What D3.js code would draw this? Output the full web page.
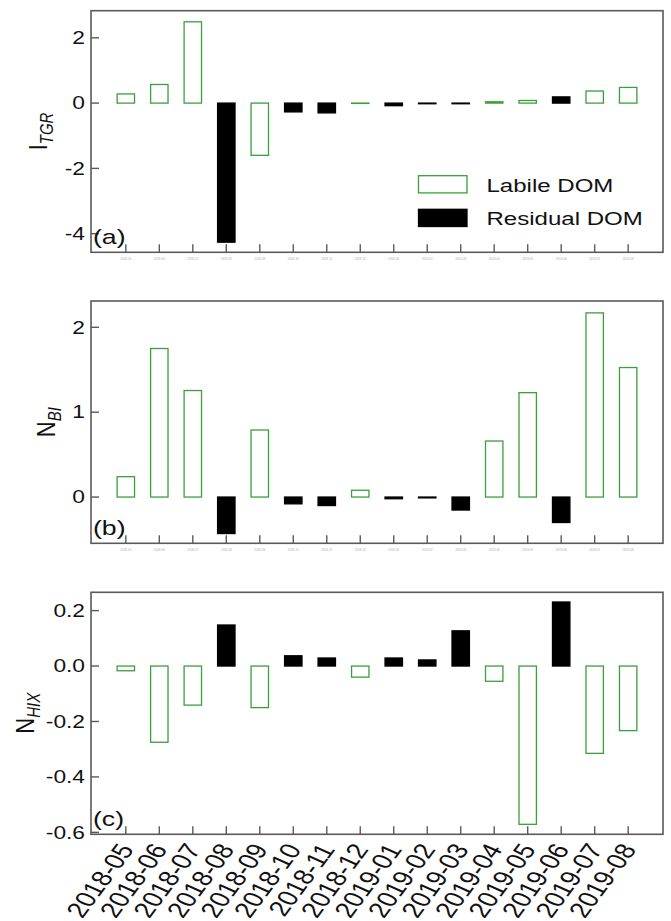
<!DOCTYPE html>
<html>
<head>
<meta charset="utf-8">
<script src="https://cdn.jsdelivr.net/npm/d3@7"></script>
<style>
  html, body { margin: 0; padding: 0; background: #fff; }
  svg { display: block; font-family: "Liberation Sans", Arial, sans-serif; }
</style>
</head>
<body>
<svg id="chart" width="671" height="921"></svg>
<script>
// ---- data ----
const months = ["2018-05","2018-06","2018-07","2018-08","2018-09","2018-10","2018-11","2018-12",
                "2019-01","2019-02","2019-03","2019-04","2019-05","2019-06","2019-07","2019-08"];
const domType = ["Labile","Labile","Labile","Residual","Labile","Residual","Residual","Labile",
                 "Residual","Residual","Residual","Labile","Labile","Residual","Labile","Labile"];
const itgr = [0.28, 0.57, 2.49, -4.26, -1.60, -0.27, -0.30, -0.01, -0.08, -0.02, -0.02, 0.04, 0.08, 0.19, 0.37, 0.48];
const nbi  = [0.24, 1.75, 1.255, -0.43, 0.79, -0.08, -0.10, 0.08, -0.02, -0.01, -0.153, 0.66, 1.23, -0.30, 2.17, 1.526];
const nhix = [-0.017, -0.275, -0.141, 0.148, -0.150, 0.037, 0.029, -0.040, 0.029, 0.022, 0.127, -0.055, -0.571, 0.231, -0.315, -0.233];
const itgrTicks = [-4, -2, 0, 2];
const itgrTickLabels = ["-4", "-2", "0", "2"];
const nbiTicks = [0, 1, 2];
const nbiTickLabels = ["0", "1", "2"];
const nhixTicks = [-0.6, -0.4, -0.2, 0, 0.2];
const nhixTickLabels = ["-0.6", "-0.4", "-0.2", "0.0", "0.2"];
const legendLabels = ["Labile DOM", "Residual DOM"];
const panelLetters = ["(a)", "(b)", "(c)"];

// ---- layout ----
const GREEN = "#3b9f3b";
const FRAME = "#5a5a5a";
const SX = 1.3; // horizontal text stretch seen in the reference
const left = 91, right = 663;

const panels = [
  { vals: itgr, ticks: itgrTicks, labels: itgrTickLabels, main: "I", sub: "TGR",
    domain: [-4.57, 2.83], top: 10.7, bottom: 252.3, titleX: 47, tiny: true, legend: true },
  { vals: nbi, ticks: nbiTicks, labels: nbiTickLabels, main: "N", sub: "BI",
    domain: [-0.545, 2.31], top: 301, bottom: 543.3, titleX: 55, tiny: true, legend: false },
  { vals: nhix, ticks: nhixTicks, labels: nhixTickLabels, main: "N", sub: "HIX",
    domain: [-0.607, 0.266], top: 592.3, bottom: 834.3, titleX: 34, tiny: false, legend: false }
];

const svg = d3.select("#chart");
svg.append("rect").attr("width", 671).attr("height", 921).attr("fill", "#fff");

const x = d3.scaleBand().domain(months).range([left, right]).paddingInner(0.48).paddingOuter(0.78);

function stretchedText(g, px, py, str, size, anchor) {
  return g.append("text")
    .attr("transform", `translate(${px},${py}) scale(${SX},1)`)
    .attr("text-anchor", anchor || "start")
    .attr("font-size", size)
    .attr("fill", "#111")
    .text(str);
}

panels.forEach((p, pi) => {
  const g = svg.append("g");
  const y = d3.scaleLinear().domain(p.domain).range([p.bottom, p.top]);
  const data = months.map((m, i) => ({ m, v: p.vals[i], t: domType[i] }));

  // bars
  g.selectAll("rect.bar").data(data).enter().append("rect")
    .attr("class", "bar")
    .attr("x", d => x(d.m))
    .attr("width", x.bandwidth())
    .attr("y", d => Math.min(y(d.v), y(0)))
    .attr("height", d => Math.abs(y(d.v) - y(0)))
    .attr("fill", d => d.t === "Labile" ? "#fff" : "#000")
    .attr("stroke", d => d.t === "Labile" ? GREEN : "#000")
    .attr("stroke-width", 1.3);

  // frame
  g.append("rect")
    .attr("x", left).attr("y", p.top)
    .attr("width", right - left).attr("height", p.bottom - p.top)
    .attr("fill", "none").attr("stroke", FRAME).attr("stroke-width", 1.6);

  // y ticks (inside) + labels
  p.ticks.forEach((t, i) => {
    g.append("line")
      .attr("x1", left).attr("x2", left + 8)
      .attr("y1", y(t)).attr("y2", y(t))
      .attr("stroke", FRAME).attr("stroke-width", 1.4);
    stretchedText(g, 85, y(t) + 6.2, p.labels[i], 17.5, "end");
  });

  // x ticks (inside)
  months.forEach(m => {
    const cx = x(m) + x.bandwidth() / 2;
    g.append("line")
      .attr("x1", cx).attr("x2", cx)
      .attr("y1", p.bottom).attr("y2", p.bottom - 8)
      .attr("stroke", FRAME).attr("stroke-width", 1.4);
    if (p.tiny) {
      g.append("text")
        .attr("x", cx).attr("y", p.bottom + 8)
        .attr("text-anchor", "middle")
        .attr("font-size", 3)
        .attr("fill", "#aaa")
        .text(m);
    }
  });

  // y title (rotated, subscript italic)
  const cy = (p.top + p.bottom) / 2;
  const tt = g.append("text")
    .attr("transform", `translate(${p.titleX},${cy}) scale(1.2,1) rotate(-90)`)
    .attr("text-anchor", "middle")
    .attr("font-size", 22)
    .attr("fill", "#111");
  tt.append("tspan").text(p.main);
  tt.append("tspan").attr("font-size", 15).attr("font-style", "italic").attr("dy", 5).text(p.sub);

  // panel letter
  stretchedText(g, 93, p.bottom - 8, panelLetters[pi], 20.5, "start");

  // legend
  if (p.legend) {
    const items = [
      { lab: legendLabels[0], fill: "#fff", stroke: GREEN, y: 175.7 },
      { lab: legendLabels[1], fill: "#000", stroke: "#000", y: 209.3 }
    ];
    items.forEach(it => {
      g.append("rect").attr("x", 418.5).attr("y", it.y)
        .attr("width", 48.5).attr("height", 17.2)
        .attr("fill", it.fill).attr("stroke", it.stroke).attr("stroke-width", 1.3);
      stretchedText(g, 486.5, it.y + 16, it.lab, 18.5, "start");
    });
  }

  // x labels for the bottom panel
  if (!p.tiny) {
    months.forEach(m => {
      const cx = x(m) + x.bandwidth() / 2;
      g.append("text")
        .attr("transform", `translate(${cx + 9},${p.bottom + 15}) scale(${SX},1) rotate(-60)`)
        .attr("text-anchor", "end")
        .attr("font-size", 22)
        .attr("fill", "#111")
        .text(m);
    });
  }
});
</script>
</body>
</html>
